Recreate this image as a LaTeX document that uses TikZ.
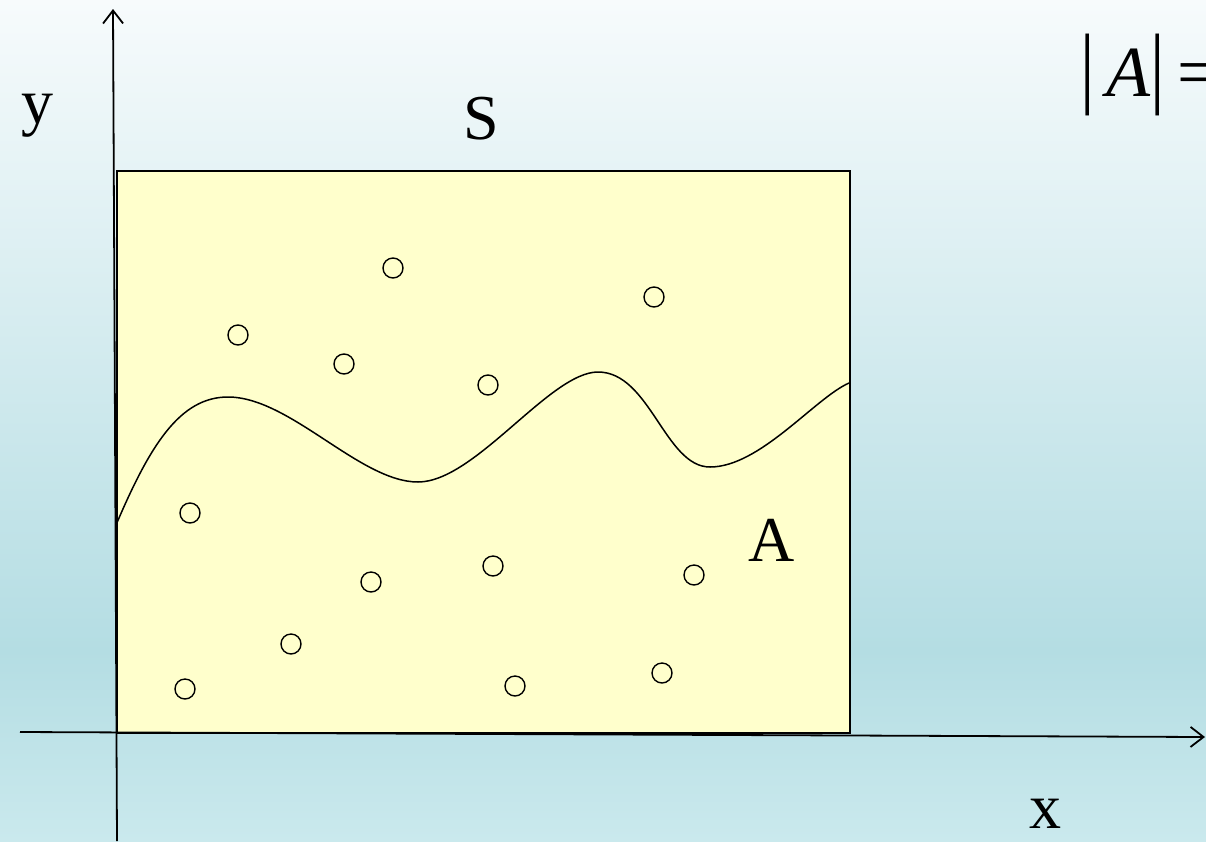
\documentclass[tikz,border=0pt]{standalone}
\usepackage{fontspec}
\setmainfont{Liberation Serif}
\usetikzlibrary{arrows.meta}
\definecolor{bgtop}{RGB}{247,251,252}
\definecolor{bgmid}{RGB}{180,221,227}
\definecolor{bgbot}{RGB}{202,233,237}
\definecolor{boxfill}{RGB}{255,255,204}
\tikzset{
  axis/.style={line width=1.8pt,-{Straight Barb[length=13pt,width=20pt,line width=1.8pt]}},
  dot/.style={circle,draw,line width=1.4pt,minimum size=20pt,inner sep=0pt},
  lbl/.style={anchor=base,inner sep=0pt,font=\fontsize{64}{74}\selectfont},
}
\begin{document}
\begin{tikzpicture}[x=1pt,y=-1pt]
\useasboundingbox (0,0) rectangle (1206,841);
\clip (0,0) rectangle (1206,841);
\shade[top color=bgtop,bottom color=bgmid] (0,0) rectangle (1206,651);
\shade[top color=bgmid,bottom color=bgbot] (0,650) rectangle (1206,841);
% region S
\node[draw,fill=boxfill,line width=1.6pt,minimum width=733pt,minimum height=562pt,inner sep=0pt,anchor=north west] (S) at (116,170) {};
% curve
\draw[line width=1.5pt] (116,525) .. controls (150,445) and (180,397) .. (228,397)
  .. controls (290,397) and (360,482) .. (418,482)
  .. controls (475,482) and (550,372) .. (598,372)
  .. controls (650,372) and (665,467) .. (710,467)
  .. controls (760,467) and (815,398) .. (849,383);
% axes
\coordinate (ybot) at (117,841);
\coordinate (ytop) at (113,9);
\coordinate (xleft) at (20,732);
\coordinate (xright) at (1205,737);
\draw[axis] (ybot) -- (ytop);
\draw[axis] (xleft) -- (xright);
% dots
\foreach \n/\p in {1/{(393,268)},2/{(654,297)},3/{(238,335)},4/{(344,364)},5/{(488,385)},6/{(190,513)},7/{(371,582)},8/{(493,566)},9/{(694,575)},10/{(291,644)},11/{(185,689)},12/{(515,686)},13/{(662,673)}}
  \node[dot] (d\n) at \p {};
% labels
\node[lbl] (ly) at (37,123) {y};
\node[lbl] (lS) at (481,139) {S};
\node[lbl] (lA) at (772,561) {A};
\node[lbl] (lx) at (1045,828) {x};
\node[anchor=base west,inner sep=0pt,font=\fontsize{72}{80}\selectfont] (eq) at (1080,96) {\scalebox{1}[1.25]{|}\,{\itshape A}\scalebox{1}[1.25]{|}\,=};
\end{tikzpicture}
\end{document}
